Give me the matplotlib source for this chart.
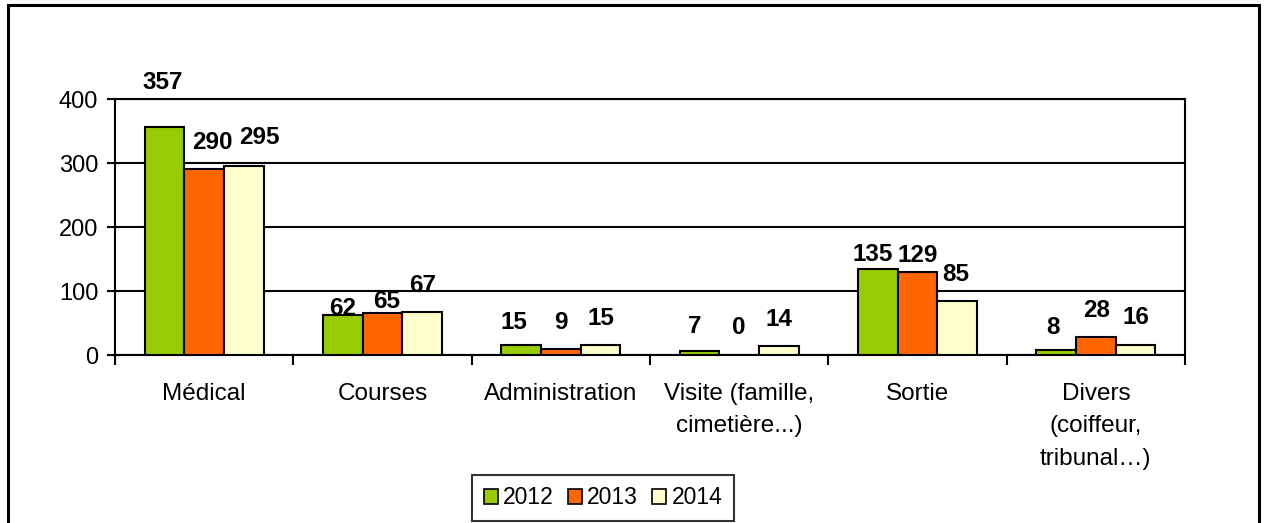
import numpy as np
import matplotlib.pyplot as plt
from matplotlib.patches import Rectangle

plt.rcParams['font.family'] = ['Liberation Sans', 'DejaVu Sans']

categories = ['Médical', 'Courses', 'Administration', 'Visite (famille,\ncimetière...)',
              'Sortie', 'Divers\n(coiffeur,\ntribunal…)']
years = ['2012', '2013', '2014']
v2012 = [357, 62, 15, 7, 135, 8]
v2013 = [290, 65, 9, 0, 129, 28]
v2014 = [295, 67, 15, 14, 85, 16]
colors = ['#99CC00', '#FF6600', '#FFFFCC']

# hand-placed data label nudges (pixels), like the original Excel chart
label_dx = [[-2, 0, -7, -5, -5, -3],
            [8, 4, 0, 0, 0, 1],
            [16, 1, 1, 0, -1, 1]]
label_dy = [[44, 7, 23, 24, 14, 22],
            [27, 12, 27, 27, 17, 27],
            [29, 27, 27, 27, 26, 27]]

fig = plt.figure(figsize=(12.68, 5.23), dpi=100)
ax = fig.add_axes([115 / 1268, 1 - 355 / 523, (1185 - 115) / 1268, (355 - 99) / 523])

x = np.arange(len(categories))
w = 0.222
series = [v2012, v2013, v2014]
for i, vals in enumerate(series):
    pos = x + (i - 1) * w
    ax.bar(pos, vals, width=w, color=colors[i], edgecolor='black', linewidth=1.5,
           label=years[i], zorder=3)
    for j, v in enumerate(vals):
        ax.annotate(str(v), (pos[j], v), xytext=(label_dx[i][j], label_dy[i][j]),
                    textcoords='offset pixels', ha='center', va='center',
                    fontsize=17.5, fontweight='bold', zorder=4)

ax.set_xlim(-0.5, len(categories) - 0.5)
ax.set_ylim(0, 400)
ax.set_yticks([0, 100, 200, 300, 400])
ax.yaxis.grid(True, color='black', linewidth=1.5, zorder=1)
ax.set_axisbelow(True)

ax.set_xticks(np.arange(len(categories) + 1) - 0.5)
ax.set_xticklabels([])
ax.set_xticks(x, minor=True)
ax.set_xticklabels(categories, minor=True, fontsize=17.5, linespacing=1.62)
ax.tick_params(axis='x', which='major', length=7, width=1.5, direction='out')
ax.tick_params(axis='x', which='minor', length=0, pad=20)
ax.tick_params(axis='y', length=6, width=1.5, labelsize=17, pad=6)

for s in ax.spines.values():
    s.set_linewidth(1.5)
    s.set_color('black')

leg = ax.legend(loc='center', bbox_to_anchor=(603 / 1268, 1 - 498 / 523),
                bbox_transform=fig.transFigure, ncol=3, frameon=True, fancybox=False,
                edgecolor='black', fontsize=16.5, handlelength=0.6, handleheight=0.6,
                handletextpad=0.25, columnspacing=0.6, borderpad=0.5)
leg.get_frame().set_linewidth(1.5)
for h in leg.legend_handles:
    h.set_linewidth(1.2)

fig.patches.append(Rectangle((8 / 1268, -0.05), (1259 - 8) / 1268, 1 - 5 / 523 + 0.05,
                             transform=fig.transFigure, fill=False,
                             edgecolor='black', linewidth=2.2))

fig.savefig('out.png', dpi=100)
